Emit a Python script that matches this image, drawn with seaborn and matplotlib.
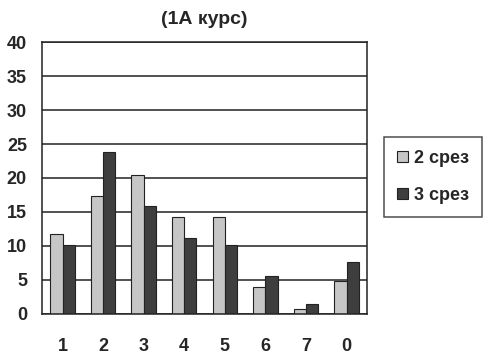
import numpy as np
import pandas as pd
import seaborn as sns
import matplotlib.pyplot as plt

categories = ['1', '2', '3', '4', '5', '6', '7', '0']
srez2 = [11.8, 17.4, 20.5, 14.2, 14.2, 4.0, 0.8, 4.8]
srez3 = [10.1, 23.8, 15.9, 11.2, 10.1, 5.6, 1.5, 7.7]
series_names = ['2 срез', '3 срез']

df = pd.DataFrame({'cat': categories * 2,
                   'value': srez2 + srez3,
                   'series': [series_names[0]] * 8 + [series_names[1]] * 8})

sns.set_style("white")
plt.rcParams['font.family'] = ['Liberation Sans', 'DejaVu Sans']
plt.rcParams['font.weight'] = 'bold'

palette = ['#c6c6c6', '#3e3e3e']

fig = plt.figure(figsize=(4.97, 3.56), dpi=100)
ax = fig.add_axes([0.085, 0.118, 0.653, 0.764])
sns.barplot(data=df, x='cat', y='value', hue='series', order=categories,
            palette=palette, width=0.6, edgecolor='#222222', linewidth=0.8,
            saturation=1, ax=ax, legend=True)

ax.set_ylim(0, 40)
ax.set_xlim(-0.5, 7.5)
ax.set_yticks(range(0, 41, 5))
ax.yaxis.grid(True, color='#222222', linewidth=1.1)
ax.set_axisbelow(True)
for s in ax.spines.values():
    s.set_color('#222222')
    s.set_linewidth(1.1)

ax.set_xticks(range(8))
ax.set_xticklabels(categories, fontsize=13, fontweight='bold')
ax.set_xticks(np.arange(-0.5, 8, 1), minor=True)
ax.tick_params(axis='x', which='major', length=0, pad=17)
ax.tick_params(axis='x', which='minor', length=6, color='#222222', width=1)
ax.tick_params(axis='y', length=5, color='#222222', width=1, labelsize=13, pad=6)
for lbl in ax.get_yticklabels():
    lbl.set_fontweight('bold')
ax.set_xlabel('')
ax.set_ylabel('')

ax.set_title('(1А курс)', fontsize=14, fontweight='bold', pad=13)

handles, labels = ax.get_legend_handles_labels()
ax.get_legend().remove()
leg = fig.legend(handles, labels, loc='center left', bbox_to_anchor=(0.773, 0.503),
                 frameon=True, fancybox=False, edgecolor='#222222',
                 handlelength=0.6, handleheight=0.6, handletextpad=0.35,
                 labelspacing=1.1, borderpad=0.7, borderaxespad=0,
                 prop={'size': 13, 'weight': 'bold'})
leg.get_frame().set_linewidth(1.1)

fig.savefig('out.png', dpi=100)
